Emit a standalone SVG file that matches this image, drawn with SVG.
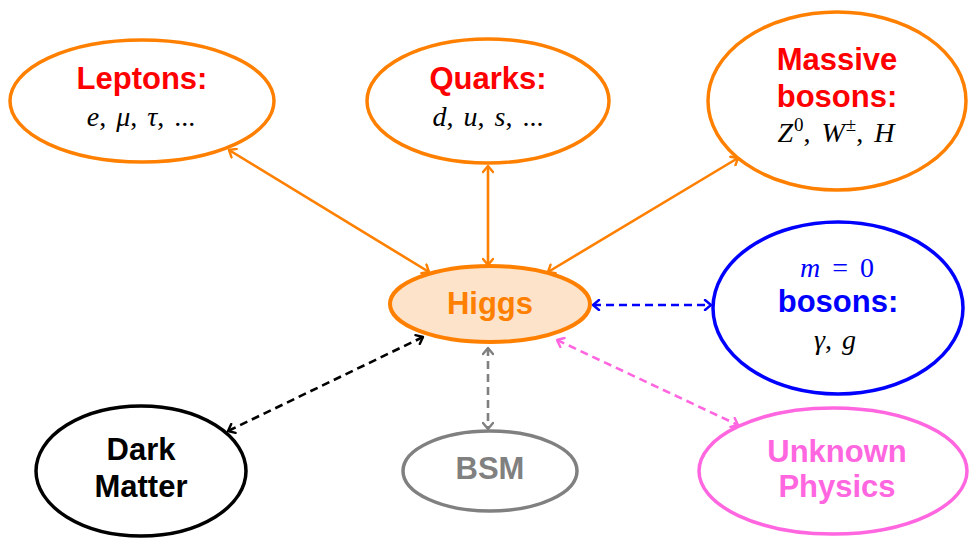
<svg xmlns="http://www.w3.org/2000/svg" width="969" height="538" viewBox="0 0 969 538">
  <style>
    .node { fill: #ffffff; stroke-width: 3.5; }
    .lbl { font-family: "Liberation Sans", Arial, sans-serif; font-weight: bold; font-size: 31px; text-anchor: middle; }
    .math { font-family: "Liberation Serif", "Times New Roman", serif; font-size: 28px; text-anchor: middle; fill: #000; word-spacing: 3px; }
    .it { font-style: italic; }
    .link { fill: none; stroke-width: 2.6; }
    .dash { stroke-dasharray: 8 5; }
  </style>
  <defs>
    <marker id="arOrange" viewBox="-8 -6 10 12" markerWidth="10" markerHeight="12" refX="0" refY="0" orient="auto-start-reverse" markerUnits="userSpaceOnUse">
      <path d="M-6,-5 L0,0 L-6,5" fill="none" stroke="#ff8000" stroke-width="2.4" stroke-linecap="round" stroke-linejoin="round"/>
    </marker>
    <marker id="arBlue" viewBox="-8 -6 10 12" markerWidth="10" markerHeight="12" refX="0" refY="0" orient="auto-start-reverse" markerUnits="userSpaceOnUse">
      <path d="M-6,-5 L0,0 L-6,5" fill="none" stroke="#0000ff" stroke-width="2.4" stroke-linecap="round" stroke-linejoin="round"/>
    </marker>
    <marker id="arBlack" viewBox="-8 -6 10 12" markerWidth="10" markerHeight="12" refX="0" refY="0" orient="auto-start-reverse" markerUnits="userSpaceOnUse">
      <path d="M-6,-5 L0,0 L-6,5" fill="none" stroke="#000000" stroke-width="2.4" stroke-linecap="round" stroke-linejoin="round"/>
    </marker>
    <marker id="arGray" viewBox="-8 -6 10 12" markerWidth="10" markerHeight="12" refX="0" refY="0" orient="auto-start-reverse" markerUnits="userSpaceOnUse">
      <path d="M-6,-5 L0,0 L-6,5" fill="none" stroke="#808080" stroke-width="2.4" stroke-linecap="round" stroke-linejoin="round"/>
    </marker>
    <marker id="arPink" viewBox="-8 -6 10 12" markerWidth="10" markerHeight="12" refX="0" refY="0" orient="auto-start-reverse" markerUnits="userSpaceOnUse">
      <path d="M-6,-5 L0,0 L-6,5" fill="none" stroke="#ff66e0" stroke-width="2.4" stroke-linecap="round" stroke-linejoin="round"/>
    </marker>
  </defs>

  <rect width="969" height="538" fill="#ffffff"/>

  <!-- connectors -->
  <g id="connectors">
    <line class="link" stroke="#ff8000" x1="229" y1="150" x2="429" y2="272" marker-start="url(#arOrange)" marker-end="url(#arOrange)"/>
    <line class="link" stroke="#ff8000" x1="488" y1="166" x2="488" y2="265" marker-start="url(#arOrange)" marker-end="url(#arOrange)"/>
    <line class="link" stroke="#ff8000" x1="738" y1="158" x2="548" y2="272" marker-start="url(#arOrange)" marker-end="url(#arOrange)"/>
    <line class="link dash" stroke="#0000ff" x1="593" y1="305" x2="711" y2="305" marker-start="url(#arBlue)" marker-end="url(#arBlue)"/>
    <line class="link dash" stroke="#000000" x1="423" y1="337" x2="228" y2="431" marker-start="url(#arBlack)" marker-end="url(#arBlack)"/>
    <line class="link dash" stroke="#808080" x1="488" y1="348" x2="488" y2="429" marker-start="url(#arGray)" marker-end="url(#arGray)"/>
    <line class="link dash" stroke="#ff66e0" x1="557" y1="340" x2="738" y2="425" marker-start="url(#arPink)" marker-end="url(#arPink)"/>
  </g>

  <!-- leptons -->
  <g id="leptons">
    <ellipse class="node" stroke="#ff8000" cx="142" cy="101" rx="132" ry="61"/>
    <text class="lbl" fill="#ff0000" x="142" y="89">Leptons:</text>
    <text class="math" x="141" y="126"><tspan class="it">e</tspan>, <tspan class="it">μ</tspan>, <tspan class="it">τ</tspan>, ...</text>
  </g>

  <!-- quarks -->
  <g id="quarks">
    <ellipse class="node" stroke="#ff8000" cx="488" cy="101" rx="121" ry="62"/>
    <text class="lbl" fill="#ff0000" x="488" y="89">Quarks:</text>
    <text class="math" x="488" y="126"><tspan class="it">d</tspan>, <tspan class="it">u</tspan>, <tspan class="it">s</tspan>, ...</text>
  </g>

  <!-- massive bosons -->
  <g id="massive">
    <ellipse class="node" stroke="#ff8000" cx="837" cy="101" rx="129" ry="89"/>
    <text class="lbl" fill="#ff0000" x="837" y="70">Massive</text>
    <text class="lbl" fill="#ff0000" x="837" y="107">bosons:</text>
    <text class="math" x="836" y="142" style="word-spacing:4px"><tspan class="it">Z</tspan><tspan font-size="19" dy="-11" dx="1">0</tspan><tspan dy="11">, </tspan><tspan class="it">W</tspan><tspan font-size="19" dy="-11" dx="1">±</tspan><tspan dy="11">, </tspan><tspan class="it">H</tspan></text>
  </g>

  <!-- higgs -->
  <g id="higgs">
    <ellipse cx="490" cy="304" rx="100" ry="38" fill="#fee3cb" stroke="#ff8000" stroke-width="4"/>
    <text class="lbl" fill="#ff8000" x="490" y="314">Higgs</text>
  </g>

  <!-- massless bosons -->
  <g id="massless">
    <ellipse class="node" stroke="#0000ff" cx="838" cy="308" rx="125" ry="86"/>
    <text class="math" x="837" y="277" style="fill:#0000ff;word-spacing:5px"><tspan class="it">m</tspan> = 0</text>
    <text class="lbl" fill="#0000ff" x="838" y="312">bosons:</text>
    <text class="math" x="835" y="349"><tspan class="it">γ</tspan>, <tspan class="it">g</tspan></text>
  </g>

  <!-- dark matter -->
  <g id="darkmatter">
    <ellipse class="node" stroke="#000000" cx="141" cy="471" rx="105" ry="65"/>
    <text class="lbl" fill="#000000" x="141" y="460">Dark</text>
    <text class="lbl" fill="#000000" x="141" y="497">Matter</text>
  </g>

  <!-- bsm -->
  <g id="bsm">
    <ellipse class="node" stroke="#808080" cx="490" cy="471" rx="87" ry="40"/>
    <text class="lbl" fill="#808080" x="490" y="479">BSM</text>
  </g>

  <!-- unknown physics -->
  <g id="unknown">
    <ellipse class="node" stroke="#ff66e0" cx="833" cy="471" rx="134" ry="63"/>
    <text class="lbl" fill="#ff66e0" x="837" y="462">Unknown</text>
    <text class="lbl" fill="#ff66e0" x="837" y="497">Physics</text>
  </g>
</svg>
